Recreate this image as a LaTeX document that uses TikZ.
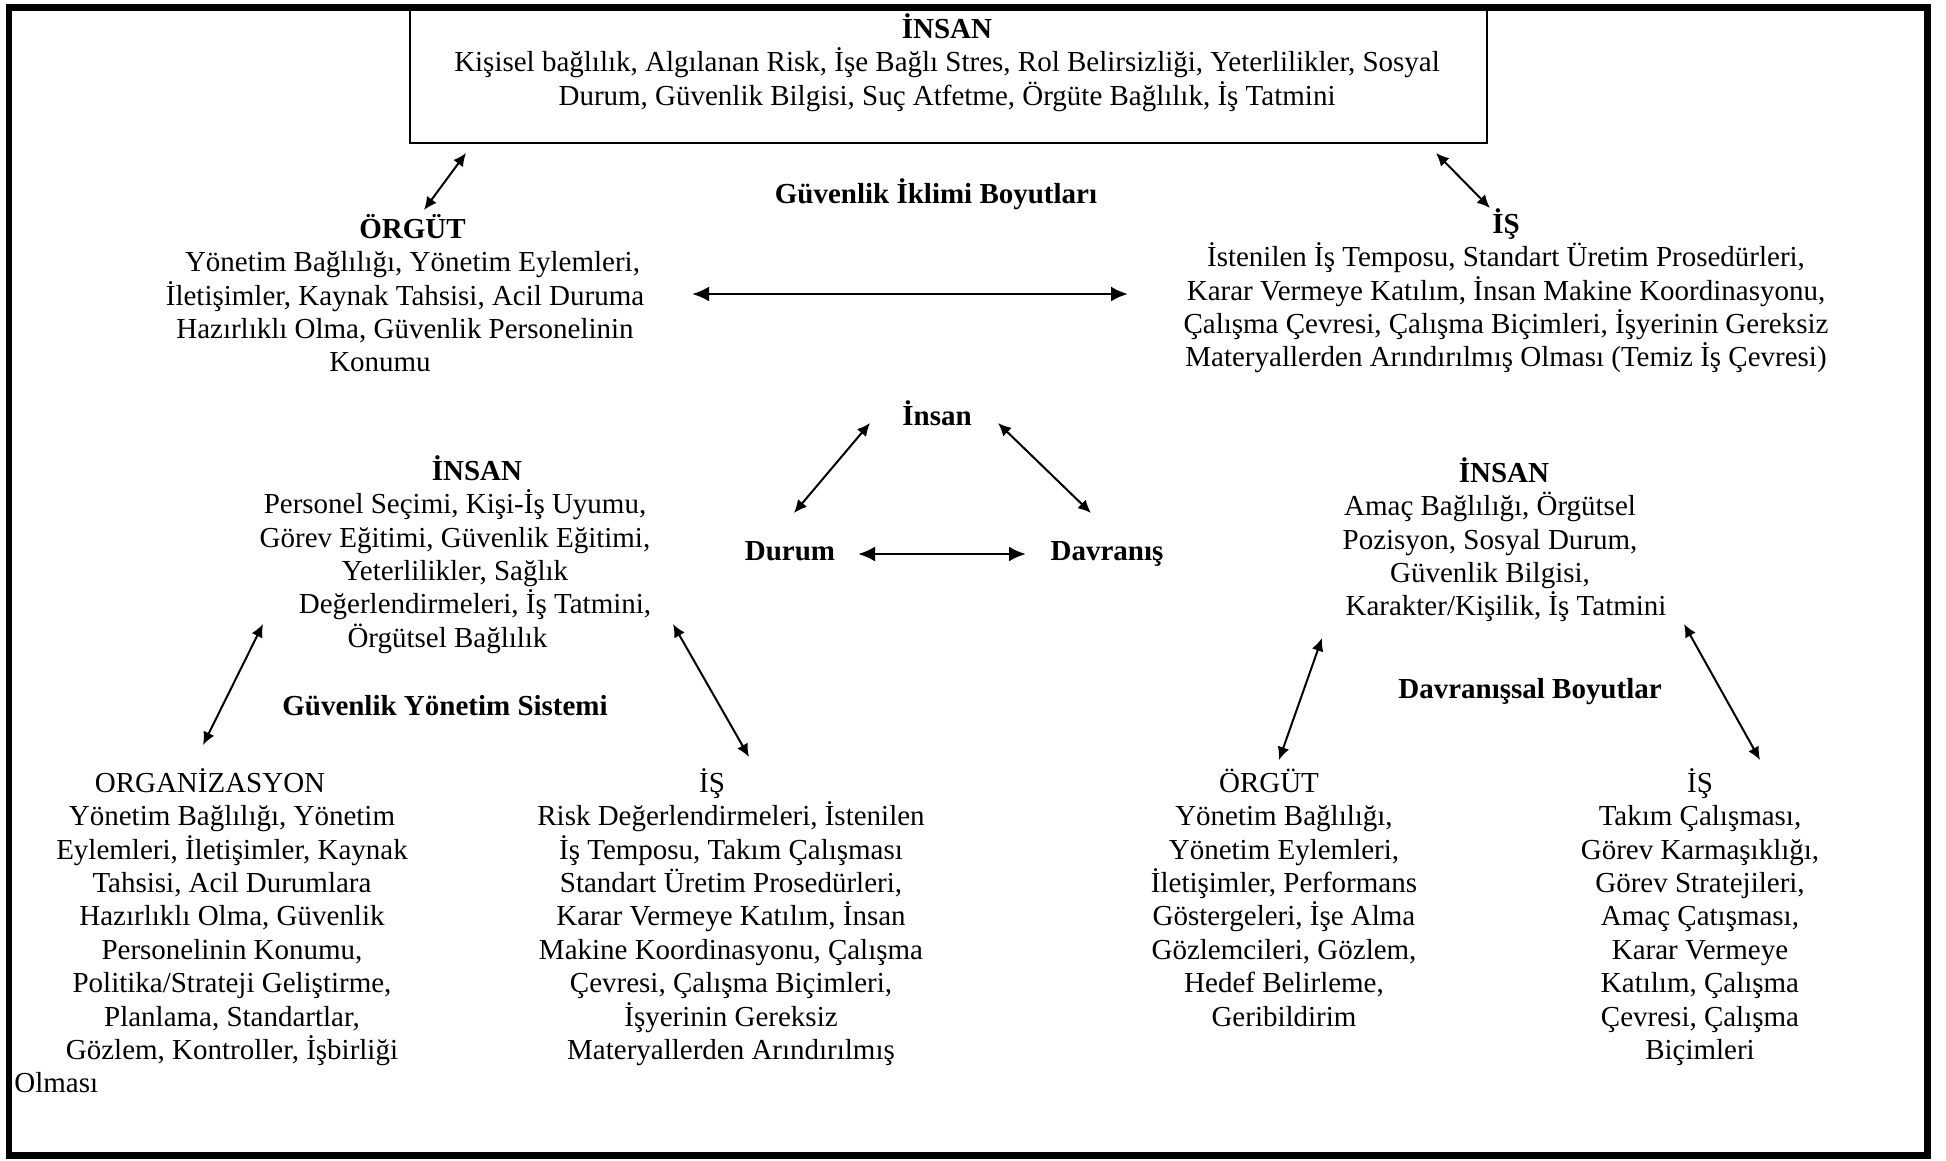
\documentclass[tikz,border=0pt]{standalone}
\usepackage{fontspec}
\setmainfont{Liberation Serif}
\usetikzlibrary{arrows.meta,positioning}
\newcommand{\ilk}{\rule{0pt}{0.9em}}

\begin{document}
\begin{tikzpicture}[x=0.02cm,y=-0.02cm,
    metin/.style={font={\fontsize{16.5}{19}\selectfont}, align=center, inner sep=0pt},
    baslik/.style={font={\fontsize{16.5}{19}\selectfont\bfseries}, inner sep=0pt, anchor=base},
    ok/.style={<->, >={Latex[length=2.6mm,width=2.4mm]}, line width=0.04cm},
    kalinok/.style={<->, >={Latex[length=3.4mm,width=3mm]}, line width=0.055cm}]
\useasboundingbox (0,0) rectangle (1946,1160);
% outer frame and top box
\draw[line width=0.14cm] (9,7) rectangle (1927,1155);
\node[draw, line width=0.05cm, minimum width=21.54cm, minimum height=2.72cm, inner sep=0pt] (ustkutu) at (948.5,75) {};
\node[metin, anchor=north] (ustinsan) at (947,12) {\ilk\textbf{İNSAN}\\
  Kişisel bağlılık, Algılanan Risk, İşe Bağlı Stres, Rol Belirsizliği, Yeterlilikler, Sosyal\\
  Durum, Güvenlik Bilgisi, Suç Atfetme, Örgüte Bağlılık, İş Tatmini};

% safety climate
\node[baslik] (iklim) at (936,203) {Güvenlik İklimi Boyutları};
\node[metin, anchor=north] (orgut) at (405,212) {\ilk\hspace*{0.3cm}\textbf{ÖRGÜT}\\
  \hspace*{0.3cm}Yönetim Bağlılığı, Yönetim Eylemleri,\\
  İletişimler, Kaynak Tahsisi, Acil Duruma\\
  Hazırlıklı Olma, Güvenlik Personelinin\hspace*{0.3cm}\\
  Konumu\hspace*{1cm}};
\node[metin, anchor=north] (is) at (1506,207) {\ilk\textbf{İŞ}\\
  İstenilen İş Temposu, Standart Üretim Prosedürleri,\\
  Karar Vermeye Katılım, İnsan Makine Koordinasyonu,\\
  Çalışma Çevresi, Çalışma Biçimleri, İşyerinin Gereksiz\\
  Materyallerden Arındırılmış Olması (Temiz İş Çevresi)};

% centre triangle
\node[baslik] (insan) at (937,425) {İnsan};
\node[baslik] (durum) at (790,560) {Durum};
\node[baslik] (davranis) at (1107,560) {Davranış};

% safety management system
\node[metin, anchor=north] (sinsan) at (455,454) {\ilk\hspace*{0.88cm}\textbf{İNSAN}\\
  Personel Seçimi, Kişi-İş Uyumu,\\
  Görev Eğitimi, Güvenlik Eğitimi,\\
  Yeterlilikler, Sağlık\hspace*{0.3cm}\\
  \hspace*{0.8cm}Değerlendirmeleri, İş Tatmini,\\
  Örgütsel Bağlılık\hspace*{0.3cm}};
\node[baslik] (sistem) at (445,715) {Güvenlik Yönetim Sistemi};
\node[metin, anchor=north] (sorg) at (232,766) {\ilk ORGANİZASYON\hspace*{0.88cm}\\
  Yönetim Bağlılığı, Yönetim\hspace*{0.36cm}\\
  Eylemleri, İletişimler, Kaynak\\
  Tahsisi, Acil Durumlara\\
  Hazırlıklı Olma, Güvenlik\\
  Personelinin Konumu,\\
  Politika/Strateji Geliştirme,\\
  Planlama, Standartlar,\hspace*{0.24cm}\\
  Gözlem, Kontroller, İşbirliği};
\node[metin, anchor=base west] (solmasi) at (14,1092) {Olması};
\node[metin, anchor=north] (sis) at (731,766) {\ilk İŞ\hspace*{0.76cm}\\
  Risk Değerlendirmeleri, İstenilen\hspace*{0.36cm}\\
  İş Temposu, Takım Çalışması\\
  Standart Üretim Prosedürleri,\\
  Karar Vermeye Katılım, İnsan\\
  Makine Koordinasyonu, Çalışma\\
  Çevresi, Çalışma Biçimleri,\\
  İşyerinin Gereksiz\\
  Materyallerden Arındırılmış};

% behavioural dimensions
\node[metin, anchor=north] (dinsan) at (1490,456) {\ilk\hspace*{0.56cm}\textbf{İNSAN}\\
  Amaç Bağlılığı, Örgütsel\hspace*{0.48cm}\\
  Pozisyon, Sosyal Durum,\hspace*{0.48cm}\\
  Güvenlik Bilgisi,\hspace*{0.56cm}\\
  \hspace*{0.64cm}Karakter/Kişilik, İş Tatmini};
\node[baslik] (boyut) at (1530,698) {Davranışsal Boyutlar};
\node[metin, anchor=north] (dorg) at (1284,766) {\ilk ÖRGÜT\hspace*{0.6cm}\\
  Yönetim Bağlılığı,\hspace*{0.52cm}\\
  Yönetim Eylemleri,\\
  İletişimler, Performans\\
  Göstergeleri, İşe Alma\\
  Gözlemcileri, Gözlem,\\
  Hedef Belirleme,\\
  Geribildirim};
\node[metin, anchor=north] (dis) at (1700,766) {\ilk İŞ\\
  Takım Çalışması,\hspace*{0.4cm}\\
  Görev Karmaşıklığı,\\
  Görev Stratejileri,\\
  Amaç Çatışması,\\
  Karar Vermeye\\
  Katılım, Çalışma\\
  Çevresi, Çalışma\\
  Biçimleri};

% arrow ends
\coordinate (k1) at (466,153);  \coordinate (o1) at (424,210);
\coordinate (k2) at (1436,153); \coordinate (i1) at (1490,208);
\coordinate (o2) at (692,294);  \coordinate (i2) at (1128,294);
\coordinate (n1) at (870,423);  \coordinate (du) at (794,513);
\coordinate (n2) at (998,423);  \coordinate (da) at (1091,513);
\coordinate (du2) at (858,554); \coordinate (da2) at (1026,554);
\coordinate (s1) at (263,624);  \coordinate (s2) at (203,745);
\coordinate (s3) at (673,624);  \coordinate (s4) at (749,757);
\coordinate (d1) at (1322,638); \coordinate (d2) at (1279,760);
\coordinate (d3) at (1684,624); \coordinate (d4) at (1760,760);

\draw[ok] (k1) -- (o1);
\draw[ok] (k2) -- (i1);
\draw[kalinok] (o2) -- (i2);
\draw[ok] (n1) -- (du);
\draw[ok] (n2) -- (da);
\draw[kalinok] (du2) -- (da2);
\draw[ok] (s1) -- (s2);
\draw[ok] (s3) -- (s4);
\draw[ok] (d1) -- (d2);
\draw[ok] (d3) -- (d4);
\end{tikzpicture}
\end{document}
